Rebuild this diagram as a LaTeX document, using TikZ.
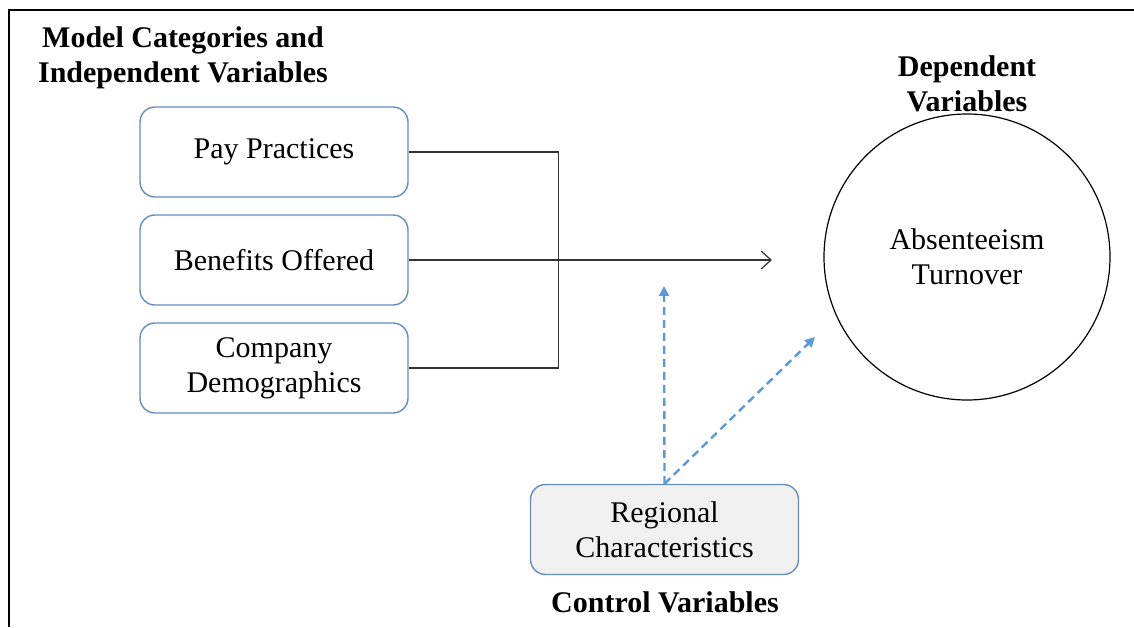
\documentclass[tikz,border=0pt]{standalone}
\usepackage{fontspec}
\setmainfont{Liberation Serif}
\usepackage{tikz}
\usepackage{xcolor}
\usetikzlibrary{positioning, arrows.meta}
\definecolor{boxblue}{RGB}{100,140,190}
\definecolor{dashblue}{RGB}{91,155,213}
\definecolor{boxgray}{RGB}{240,240,240}
\begin{document}
\begin{tikzpicture}[x=0.5pt, y=-0.5pt, font=\fontsize{15}{17.5}\selectfont,
            varbox/.style={rectangle, rounded corners=7.5pt, draw=boxblue, line width=0.7pt, minimum width=134pt, minimum height=45pt, align=center, inner sep=0pt},
            heading/.style={font=\fontsize{15}{17.5}\selectfont\bfseries, align=center},
            ctrl/.style={dashblue, line width=1.2pt, dash pattern=on 4pt off 2.5pt, -{Triangle[length=5pt, width=5pt]}}]
            \useasboundingbox (0,0) rectangle (1134,627);
            \draw[line width=1pt] (9,627) -- (9,10) -- (1134,10);

            \node[heading] (indep) at (183,58) {Model Categories and\\Independent Variables};
            \node[heading] (dep) at (967,84) {Dependent\\Variables};
            \node[heading] (ctrlvars) at (665,602) {Control Variables};

            \node[varbox] (pay) at (274,152) {Pay Practices};
            \node[varbox] (ben) at (274,260) {Benefits Offered};
            \node[varbox] (dem) at (274,368) {Company\\Demographics};
            \node[varbox, fill=boxgray] (reg) at (664.5,529.5) {Regional\\Characteristics};
            \node[circle, draw=black, line width=0.6pt, minimum size=143pt, align=center, inner sep=0pt] (out) at (967,257) {Absenteeism\\Turnover};

            \coordinate (tip) at (772,260);
            \coordinate (up) at (664,286);
            \coordinate (diag) at (815,337);

            \draw[line width=0.6pt, draw=black!80] (pay.east) -- ++(150,0) |- (dem.east);
            \draw[line width=0.6pt, draw=black!80, -{Straight Barb[length=5pt, width=9pt]}] (ben.east) -- (tip);
            \draw[ctrl] (reg.north) -- (up);
            \draw[ctrl] (reg.north) -- (diag);
        \end{tikzpicture}
\end{document}
